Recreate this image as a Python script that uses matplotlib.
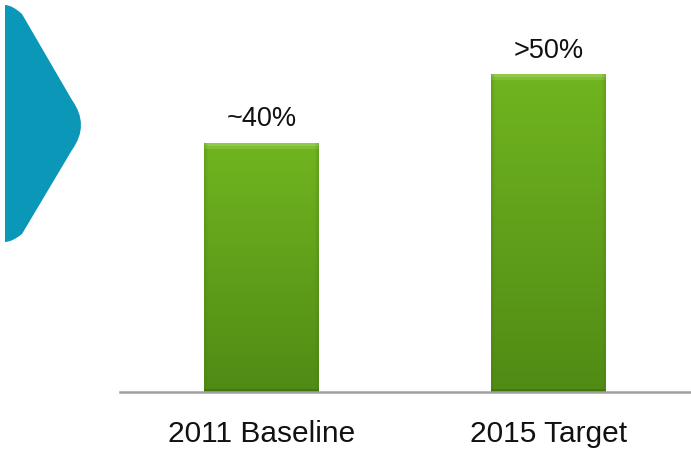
import matplotlib
matplotlib.use("Agg")
import matplotlib.pyplot as plt
import numpy as np
from matplotlib.path import Path
from matplotlib.patches import PathPatch
from matplotlib.colors import to_rgb

categories = ["2011 Baseline", "2015 Target"]
values = [40, 51]
value_labels = ["~40%", ">50%"]

W, H = 691, 453
fig = plt.figure(figsize=(W / 100, H / 100), dpi=100)
fig.patch.set_facecolor("white")
plt.rcParams['font.family'] = ['Liberation Sans', 'DejaVu Sans']

# Chevron on the left (figure decoration)
def fp(x, y):
    return (x / W, 1 - y / H)

verts = [fp(5, 5), fp(12, 5), fp(22, 14), fp(72, 100),
         fp(90, 125), fp(72, 150), fp(22, 234), fp(12, 242),
         fp(5, 242), fp(5, 5)]
codes = [Path.MOVETO, Path.CURVE3, Path.CURVE3, Path.LINETO,
         Path.CURVE3, Path.CURVE3, Path.LINETO, Path.CURVE3,
         Path.CURVE3, Path.CLOSEPOLY]
chev = PathPatch(Path(verts, codes), transform=fig.transFigure,
                 facecolor="#0b97b8", edgecolor="none")
fig.patches.append(chev)

ax = fig.add_axes([120 / W, (H - 392) / H, 1 - 120 / W, 392 / H])
x = np.arange(len(categories))
width = 0.4
ax.set_xlim(-0.493, 1.497)
ax.set_ylim(0, 63)

bars = ax.bar(x, values, width=width, color="#62a31c", edgecolor="none", zorder=2)

top_c = np.array(to_rgb("#70b520"))
bot_c = np.array(to_rgb("#508b15"))
bevel_c = np.array(to_rgb("#92c94a"))
edge_dark = np.array(to_rgb("#44780f"))

fig.canvas.draw()
for b in bars:
    x0, y0 = b.get_x(), b.get_y()
    w, h = b.get_width(), b.get_height()
    p0 = ax.transData.transform((x0, y0))
    p1 = ax.transData.transform((x0 + w, y0 + h))
    nx = max(int(round(p1[0] - p0[0])), 2)
    ny = max(int(round(p1[1] - p0[1])), 2)
    t = np.linspace(0, 1, ny)[:, None]
    img = np.ones((ny, nx, 3)) * (top_c * (1 - t) + bot_c * t)[:, None, :].reshape(ny, 1, 3)
    # top bevel
    img[:3, :, :] = bevel_c
    img[3:6, :, :] = 0.5 * bevel_c + 0.5 * top_c
    # side shading
    for k in range(4):
        f = 0.3 * (1 - k / 4)
        img[:, k, :] = img[:, k, :] * (1 - f) + edge_dark * f
        img[:, -1 - k, :] = img[:, -1 - k, :] * (1 - f) + edge_dark * f
    img[-3:, :, :] = edge_dark
    ax.imshow(img, extent=(x0, x0 + w, y0, y0 + h), aspect="auto",
              origin="upper", zorder=3, interpolation="bilinear")

ax.set_xlim(-0.493, 1.497)
ax.set_ylim(0, 63)

for xi, v, lab in zip(x, values, value_labels):
    ax.annotate(lab, (xi, v), xytext=(0, 8), textcoords="offset points",
                ha="center", va="bottom", fontsize=19.5, color="#111111")

ax.set_xticks(x)
ax.set_xticklabels(categories, fontsize=21.5, color="#111111")
ax.tick_params(axis="x", length=0, pad=20)
ax.set_yticks([])
for s in ["top", "right", "left"]:
    ax.spines[s].set_visible(False)
ax.spines["bottom"].set_color("#a0a0a0")
ax.spines["bottom"].set_linewidth(1.8)
ax.spines["bottom"].set_zorder(4)
ax.set_facecolor("none")

fig.savefig("out.png", dpi=100, facecolor="white")
